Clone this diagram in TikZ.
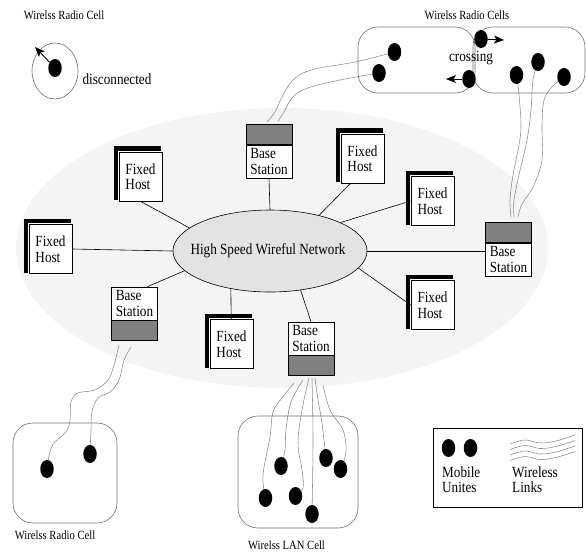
\documentclass[tikz,border=0pt]{standalone}
\usepackage{fontspec}
\setmainfont{Liberation Serif}[FakeStretch=0.85]
\usetikzlibrary{shapes.geometric,arrows.meta,shadows,calc}
\definecolor{bgray}{HTML}{808080}
\definecolor{netfill}{HTML}{E3E3E3}
\definecolor{bgfill}{HTML}{F4F4F4}
\definecolor{cellc}{HTML}{707070}
\definecolor{linkc}{HTML}{8A8A8A}
\newcommand\mainsz{\fontsize{15.5pt}{15.5pt}\selectfont}
\newcommand\smallsz{\fontsize{12.5pt}{14pt}\selectfont}
\pgfdeclarelayer{back}
\pgfdeclarelayer{mid}
\pgfsetlayers{back,mid,main}
\tikzset{
  fixedhost/.style={draw=black, fill=white, line width=0.7pt, minimum width=43, minimum height=49,
    inner sep=0pt, align=left, font=\mainsz,
    general shadow={shadow xshift=-3pt, shadow yshift=3pt, shadow scale=1.1, fill=black},
    preaction={draw=white, line width=2.4pt}},
  bstext/.style={draw=black, fill=white, line width=0.7pt, minimum width=46, minimum height=33,
    inner sep=0pt, align=left, font=\mainsz},
  bsgray/.style={draw=black, fill=bgray, line width=0.7pt, minimum width=46, minimum height=20, inner sep=0pt},
  netnode/.style={ellipse, draw=black, fill=netfill, line width=0.6pt, inner sep=0pt},
  conn/.style={draw=black, line width=0.6pt},
  link/.style={draw=linkc, line width=0.55pt},
  cellbox/.style={draw=cellc, line width=0.6pt, rounded corners=20pt, inner sep=0pt},
  mdot/.style={ellipse, fill=black, minimum width=13.5, minimum height=18, inner sep=0pt},
  maintext/.style={font=\mainsz, inner sep=0pt},
  smalltext/.style={font=\smallsz, inner sep=0pt},
  arr/.style={draw=black, line width=0.9pt, -{Stealth[length=10pt, width=8pt, inset=2.5pt]}}
}
\begin{document}
\begin{tikzpicture}[x=1pt,y=-1pt]
\useasboundingbox (0,0) rectangle (586,552);
\begin{pgfonlayer}{back}
  \fill[bgfill] (282,248) ellipse [x radius=266pt, y radius=140pt];
\end{pgfonlayer}

% cells
\node[ellipse, draw=cellc, line width=0.6pt, minimum width=46, minimum height=56, inner sep=0pt] (cellA) at (55,71) {};
\node[cellbox, minimum width=117, minimum height=66] (cellL) at (416.5,60) {};
\node[cellbox, minimum width=112, minimum height=66] (cellR) at (529,60) {};
\node[cellbox, minimum width=104, minimum height=100] (cellBL) at (65,473) {};
\node[cellbox, minimum width=120, minimum height=112] (cellLAN) at (298,472) {};

% network
\node[netnode, minimum width=194, minimum height=82] (net) at (270,251) {};
\node[maintext] (nettext) at (268,251) {High Speed Wireful Network};

% fixed hosts
\node[fixedhost] (fh1) at (140.5,176.5) {Fixed\\Host};
\node[fixedhost] (fh2) at (362.5,158.5) {Fixed\\Host};
\node[fixedhost] (fh3) at (432.5,201) {Fixed\\Host};
\node[fixedhost] (fh4) at (432.5,305) {Fixed\\Host};
\node[fixedhost] (fh5) at (50.5,249) {Fixed\\Host};
\node[fixedhost] (fh6) at (231.5,344) {Fixed\\Host};

% base stations
\node[bstext] (bs1t) at (269,161.5) {Base\\Station};
\node[bsgray, anchor=south] (bs1g) at (bs1t.north) {};
\node[bstext] (bs2t) at (508.5,259.5) {Base\\Station};
\node[bsgray, anchor=south] (bs2g) at (bs2t.north) {};
\node[bstext] (bs3t) at (134.5,303.5) {Base\\Station};
\node[bsgray, anchor=north] (bs3g) at (bs3t.south) {};
\node[bstext] (bs4t) at (311,338.5) {Base\\Station};
\node[bsgray, anchor=north] (bs4g) at (bs4t.south) {};

% connectors
\draw[conn] (net.164) -- (fh1.south);
\draw[conn] (net.90) -- (bs1t.south);
\draw[conn] (net.36) -- ($(fh2.south)+(-12,0)$);
\draw[conn] (net.22) -- (fh3.west);
\draw[conn] (net.east) -- (net.east -| bs2t.west);
\draw[conn] (net.349) -- (fh4.west);
\draw[conn] (net.224) -- (fh6);
\draw[conn] (net.193) -- ($(bs3t.north)+(13,0)$);
\draw[conn] (net.west) -- (fh5.east);
\draw[conn] (net.308) -- (bs4t.north);

% mobile units
\node[mdot] (dA) at (55,68) {};
\node[mdot] (d1) at (394.5,52) {};
\node[mdot] (d2) at (379,73) {};
\node[mdot] (d3) at (469,79) {};
\node[mdot] (d4) at (481,39) {};
\node[mdot] (r1) at (516.5,75) {};
\node[mdot] (r2) at (538,62) {};
\node[mdot] (r3) at (564,77) {};
\node[mdot] (b1) at (47,469) {};
\node[mdot] (b2) at (90,454) {};
\node[mdot] (l1) at (281,466) {};
\node[mdot] (l2) at (265.5,498) {};
\node[mdot] (l3) at (295.5,496) {};
\node[mdot] (l4) at (312,514) {};
\node[mdot] (l5) at (326,458) {};
\node[mdot] (l6) at (340.5,469) {};

% free ends of links
\coordinate (e1) at (267,122);
\coordinate (e2) at (278,121);
\coordinate (e3) at (511,217);
\coordinate (e4) at (514,217);
\coordinate (e5) at (518,217);
\coordinate (e6) at (119,345);
\coordinate (e7) at (131,347);
\coordinate (e8) at (294,383);
\coordinate (e9) at (303,380);
\coordinate (e10) at (309,378);
\coordinate (e11) at (312,378);
\coordinate (e12) at (315,378);
\coordinate (e13) at (323,385);

\begin{pgfonlayer}{mid}
  \draw[link] plot[smooth, tension=0.6] coordinates {(e1) (275,112) (283,95) (295,78) (315,69) (355,62) (d1)};
  \draw[link] plot[smooth, tension=0.6] coordinates {(e2) (284,112) (292,98) (305,89) (335,81) (d2)};
  \draw[link] plot[smooth, tension=0.6] coordinates {(r1) (519,95) (521,125) (519,145) (513,175) (510,200) (e3)};
  \draw[link] plot[smooth, tension=0.6] coordinates {(r2) (533,80) (531,110) (527,140) (519,175) (514,200) (e4)};
  \draw[link] plot[smooth, tension=0.6] coordinates {(r3) (552,87) (544,100) (542,125) (542,160) (533,187) (522,204) (e5)};
  \draw[link] plot[smooth, tension=0.6] coordinates {(e6) (114,365) (108,380) (95,390) (78,393) (71,402) (70,420) (66,432) (52,446) (b1)};
  \draw[link] plot[smooth, tension=0.6] coordinates {(e7) (124,360) (119,380) (110,392) (98,398) (92,412) (91,430) (b2)};
  \draw[link] plot[smooth, tension=0.6] coordinates {(e8) (282,398) (273,412) (270,437) (263,475) (l2)};
  \draw[link] plot[smooth, tension=0.6] coordinates {(e9) (291,402) (286,430) (285,450) (l1)};
  \draw[link] plot[smooth, tension=0.6] coordinates {(e10) (302,410) (298,443) (302,470) (303,488) (l3)};
  \draw[link] plot[smooth, tension=0.6] coordinates {(e11) (313,440) (l4)};
  \draw[link] plot[smooth, tension=0.6] coordinates {(e12) (318,400) (322,423) (l5)};
  \draw[link] plot[smooth, tension=0.6] coordinates {(e13) (330,410) (343,430) (346,452) (l6)};
\end{pgfonlayer}

% movement arrows
\coordinate (tipA) at (35,47);
\coordinate (tipR) at (504,40);
\coordinate (tipL) at (446,79);
\draw[arr] (dA) -- (tipA);
\draw[arr] (d4) -- (tipR);
\draw[arr] (d3) -- (tipL);

% labels
\node[smalltext] (lblA) at (64,15.5) {Wirelss Radio Cell};
\node[maintext] (lblDisc) at (117,79) {disconnected};
\node[smalltext] (lblB) at (467,15.5) {Wirelss Radio Cells};
\node[maintext] (lblCross) at (471,58) {crossing};
\node[smalltext] (lblC) at (55,535) {Wirelss Radio Cell};
\node[smalltext] (lblD) at (286.5,545) {Wirelss LAN Cell};

% legend
\node[draw=black, line width=0.8pt, minimum width=149, minimum height=79, inner sep=0pt] (legend) at (507.5,467.5) {};
\node[mdot] (lg1) at (448.5,448) {};
\node[mdot] (lg2) at (470.5,448) {};
\node[maintext, align=left, anchor=north west] (lgM) at (442,466.4) {Mobile\\Unites};
\node[maintext, align=left, anchor=north west] (lgW) at (512,466.4) {Wireless\\Links};
\foreach \k in {0,5.5,11,16.5}{
  \draw[link] plot[smooth, tension=0.6] coordinates {(510,444+\k) (525,440+\k) (540,443+\k) (556,441+\k) (575,435+\k)};
}
\end{tikzpicture}
\end{document}
